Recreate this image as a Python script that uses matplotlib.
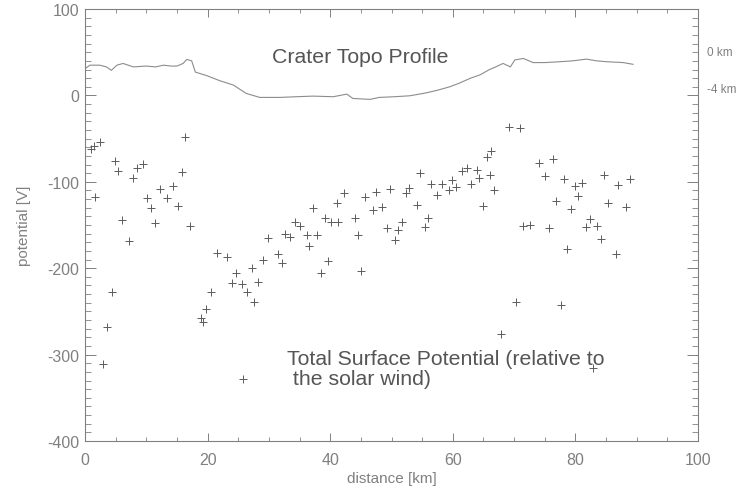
import matplotlib
matplotlib.use("Agg")
import matplotlib.pyplot as plt
from matplotlib.ticker import MultipleLocator

plt.rcParams['font.family'] = ['Liberation Sans', 'DejaVu Sans']
plt.rcParams['axes.unicode_minus'] = False

# crater topography profile (plotted in potential units, offset)
topo_x = [0, 0.8, 2.4, 3.5, 4.3, 5.2, 6.2, 7.9, 10, 11.5, 12.8, 14, 15, 16, 16.6, 17.4,
          18, 19.9, 22, 24.2, 26.3, 28.5, 31.8, 34.5, 37.2, 40.5, 42.7, 43.7, 46.5, 48,
          50.5, 53, 55.7, 57.5, 59.5, 61, 62.8, 64.5, 66, 67, 68.2, 69.4, 70.1, 71.5,
          73.1, 75, 77.5, 79.5, 81.8, 83.5, 85.1, 87.8, 89.4]
topo_y = [31, 35, 35, 33, 29, 35, 37, 33, 34, 33, 35, 34, 34, 37, 41.7, 40,
          27, 22.8, 17, 12, 2.3, -2.3, -2.3, -1.5, -0.8, -1.5, 1.5, -3.5, -4.6, -2.3,
          -1.5, -0.4, 3, 6, 10, 14, 19.7, 24, 30, 33, 37, 33, 41, 42.8,
          38, 38, 39, 40, 42, 40, 39, 38, 36]

# total surface potential measurements
dist = [16.3, 2.4, 1.4, 0.9, 4.9, 5.4, 9.5, 8.5, 7.9, 15.8, 12.2, 14.4, 10.1, 13.3, 10.8,
        15.1, 1.6, 6.0, 11.4, 17.1, 7.2, 29.9, 32.6, 21.5, 23.1, 31.5, 29.0, 32.1, 27.2,
        24.6, 23.9, 25.6, 28.3, 26.5, 27.6, 20.5, 19.8, 19.0, 19.3, 4.4, 3.6, 2.9, 25.8,
        33.4, 34.3, 35.1, 36.2, 37.8, 36.5, 37.2, 39.2, 40.2, 41.3, 41.1, 42.3, 39.6, 38.5,
        45.1, 44.0, 44.5, 45.7, 47.4, 47.0, 48.4, 49.8, 49.2, 50.5, 51.1, 51.7, 52.3, 52.9,
        54.1, 54.6, 55.4, 55.9, 56.4, 57.4, 58.2, 59.3, 59.8, 60.6, 61.5, 62.3, 63.9, 63.0,
        64.2, 64.9, 65.5, 66.3, 66.1, 66.8,
        69.1, 71.0, 74.0, 76.4, 75.0, 78.1, 79.9, 81.1, 80.5, 76.9, 79.3, 84.7, 87.0, 88.9,
        85.3, 88.3, 82.3, 81.8, 83.5, 84.2, 71.5, 72.6, 75.7, 78.7, 86.6, 70.3, 77.7, 67.9,
        82.9]
potential = [-48, -54, -59, -62, -76, -87, -79, -84, -96, -89, -108, -105, -119, -119, -130,
             -128, -118, -144, -148, -151, -168, -165, -160, -182, -187, -184, -191, -194, -200,
             -206, -217, -218, -216, -228, -239, -227, -247, -258, -262, -227, -268, -311, -328,
             -164, -146, -151, -161, -162, -174, -130, -142, -146, -146, -125, -113, -192, -206,
             -203, -142, -162, -117, -112, -133, -129, -108, -153, -167, -156, -147, -113, -107,
             -127, -90, -152, -142, -103, -115, -102, -110, -98, -106, -88, -84, -86, -103,
             -96, -128, -71, -64, -92, -110,
             -36, -38, -78, -74, -93, -97, -105, -101, -116, -122, -132, -92, -104, -97,
             -125, -129, -143, -152, -151, -166, -151, -150, -154, -178, -183, -239, -243, -276,
             -315]

gray = '#808080'

fig = plt.figure(figsize=(7.38, 4.89), dpi=100)
ax = fig.add_axes([0.1152, 0.0961, 0.8306, 0.8834])

ax.plot(topo_x, topo_y, color='#8c8c8c', lw=0.8)
ax.plot(dist, potential, ls='none', marker='+', ms=6, mew=0.7, color='#5c5c5c')

ax.set_xlim(0, 100)
ax.set_ylim(-400, 100)
ax.xaxis.set_major_locator(MultipleLocator(20))
ax.xaxis.set_minor_locator(MultipleLocator(5))
ax.yaxis.set_major_locator(MultipleLocator(100))
ax.yaxis.set_minor_locator(MultipleLocator(10))
ax.tick_params(which='both', direction='in', top=True, right=True, colors=gray,
               labelsize=11.5, labelcolor=gray)
ax.tick_params(axis='y', which='major', length=8, width=0.7, pad=4)
ax.tick_params(axis='y', which='minor', length=4, width=0.6)
ax.tick_params(axis='x', which='major', length=6, width=0.7, pad=8)
ax.tick_params(axis='x', which='minor', length=3, width=0.6)
for s in ax.spines.values():
    s.set_color(gray)
    s.set_linewidth(0.8)

ax.set_xlabel('distance [km]', color=gray, fontsize=11, labelpad=3)
ax.set_ylabel('potential [V]', color=gray, fontsize=11, labelpad=12)

ax.text(30.5, 45, 'Crater Topo Profile', fontsize=15.3, color='#555555', va='center')
ax.text(33, -316, 'Total Surface Potential (relative to\n the solar wind)', fontsize=15.3,
        color='#555555', va='center', linespacing=1.05)

ax.text(101.4, 50, '0 km', fontsize=8.5, color=gray, va='center', clip_on=False)
ax.text(101.4, 7, '-4 km', fontsize=8.5, color=gray, va='center', clip_on=False)

plt.savefig('out.png', dpi=100)
